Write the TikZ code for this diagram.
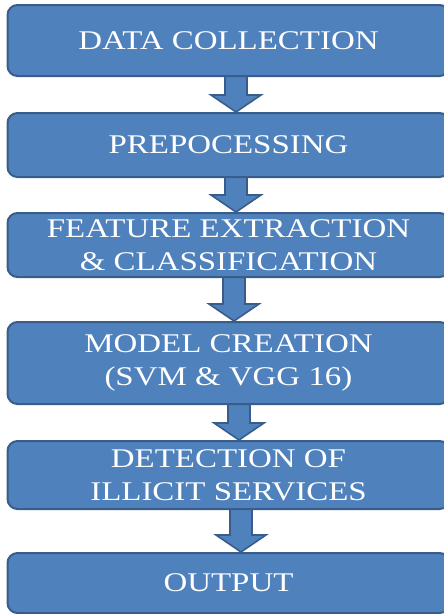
\documentclass[tikz,border=0pt]{standalone}
\usepackage{fontspec}
\setmainfont{Liberation Serif}[FakeStretch=1.22]
\usetikzlibrary{calc,backgrounds}
\definecolor{boxfill}{HTML}{4F81BD}
\definecolor{boxline}{HTML}{385D8A}
\tikzset{
  stagebox/.style={draw=boxline, fill=boxfill, line width=2pt, rounded corners=10pt,
    minimum width=442pt, inner sep=0pt, align=center, text=white,
    font=\fontsize{27}{33}\selectfont},
  blockarrow/.style={draw=boxline, fill=boxfill, line width=1.6pt, line join=miter}
}
%% block arrow: from node, to node, x offset of its axis
\newcommand{\flowarrow}[3]{%
  \draw[blockarrow] ($(#1.south)+(#3-11,-4)$) -- ($(#2.north)+(#3-11,-17)$)
    -- ($(#2.north)+(#3-25,-17)$) -- ($(#2.north)+(#3,0)$)
    -- ($(#2.north)+(#3+25,-17)$) -- ($(#2.north)+(#3+11,-17)$)
    -- ($(#1.south)+(#3+11,-4)$) -- cycle;}
\begin{document}
\begin{tikzpicture}[x=1pt,y=-1pt]
    \useasboundingbox (0,0) rectangle (444,614);
    %% Stages
    \node[stagebox,minimum height=71pt] (collect) at (228.5,40.5) {DATA COLLECTION};
    \node[stagebox,minimum height=64pt] (prepro)  at (228.5,145)  {PREPOCESSING};
    \node[stagebox,minimum height=64pt] (feature) at (228.5,245)  {FEATURE EXTRACTION\\\& CLASSIFICATION};
    \node[stagebox,minimum height=82pt] (model)   at (228.5,363)  {MODEL CREATION\\ (SVM \& VGG 16)};
    \node[stagebox,minimum height=68pt] (detect)  at (228.5,475)  {DETECTION OF\\ILLICIT SERVICES};
    \node[stagebox,minimum height=60pt] (output)  at (228.5,583)  {OUTPUT};
    %% Arrows (behind the boxes)
    \begin{scope}[on background layer]
        \flowarrow{collect}{prepro}{7.5}
        \flowarrow{prepro}{feature}{7.5}
        \flowarrow{feature}{model}{5.5}
        \flowarrow{model}{detect}{10.5}
        \flowarrow{detect}{output}{12.5}
    \end{scope}
\end{tikzpicture}
\end{document}
